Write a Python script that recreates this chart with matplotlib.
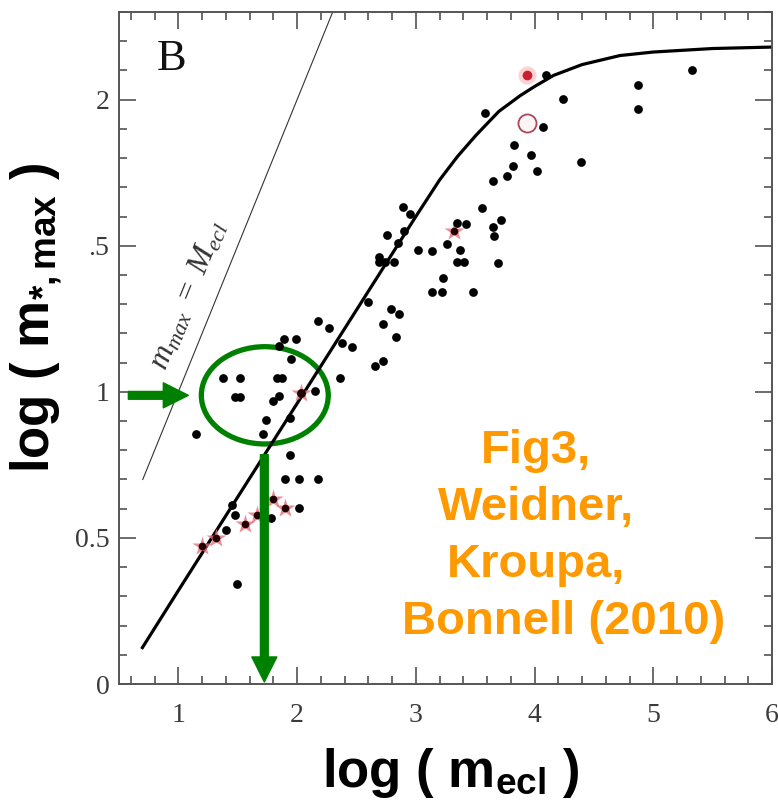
import matplotlib as mpl

mpl.use("Agg")
import matplotlib.pyplot as plt
from matplotlib.patches import Ellipse
from matplotlib.ticker import MultipleLocator, FixedLocator, FixedFormatter

plt.rcParams["font.family"] = "Liberation Serif"
plt.rcParams["mathtext.fontset"] = "custom"
plt.rcParams["mathtext.rm"] = "Liberation Serif"
plt.rcParams["mathtext.it"] = "Liberation Serif:italic"
plt.rcParams["mathtext.bf"] = "Liberation Sans:bold"

# observed clusters, log M_ecl vs log m_max (black dots)
CLUSTER_X = [1.38, 1.52, 1.48, 1.52, 1.83, 1.87, 1.80, 1.85, 1.74, 1.71, 1.94, 2.03, 2.15,
             2.36, 1.15, 1.89, 1.99, 1.85, 1.95, 2.18, 2.27, 2.46, 2.38, 2.60, 2.66, 2.72,
             1.94, 1.90, 2.02, 2.18, 2.02, 1.78, 1.48, 1.45, 1.40, 1.49,
             2.89, 2.95, 2.76, 2.90, 2.85, 2.69, 2.69, 2.74, 2.82, 2.79, 2.86, 2.72, 2.83,
             3.02, 3.14, 3.26, 3.35, 3.42, 3.37, 3.35, 3.41, 3.23, 3.14, 3.22, 3.48,
             3.56, 3.65, 3.66, 3.72, 3.69, 3.65, 3.77, 3.82, 3.97, 4.02,
             4.10, 4.24, 3.58, 4.07, 3.83, 4.39, 4.87, 4.87, 5.33]
CLUSTER_Y = [1.048, 1.048, 0.982, 0.982, 1.048, 1.048, 0.968, 0.985, 0.903, 0.856, 0.911,
             0.997, 1.002, 1.048, 0.854, 1.180, 1.180, 1.157, 1.111, 1.242, 1.217, 1.153,
             1.168, 1.306, 1.088, 1.105, 0.785, 0.702, 0.702, 0.702, 0.603, 0.568, 0.580,
             0.614, 0.528, 0.343,
             1.631, 1.608, 1.536, 1.551, 1.511, 1.463, 1.443, 1.443, 1.443, 1.285, 1.265,
             1.231, 1.186, 1.485, 1.483, 1.506, 1.578, 1.574, 1.485, 1.443, 1.443, 1.388,
             1.340, 1.340, 1.340, 1.629, 1.563, 1.532, 1.588, 1.440, 1.721, 1.740, 1.774,
             1.811, 1.757, 2.085, 2.003, 1.955, 1.906, 1.846, 1.786, 2.051, 1.968, 2.100]

# highlighted clusters (red stars)
STAR_X = [1.80, 1.90, 1.66, 1.56, 1.32, 1.20, 3.32, 2.03]
STAR_Y = [0.633, 0.603, 0.580, 0.549, 0.500, 0.471, 1.552, 0.997]

# red filled / open circle
RED_X, RED_Y = [3.935], [2.085]
OPEN_X, OPEN_Y = [3.935], [1.920]

# model relation m_max(M_ecl)
MODEL_X = [0.69, 1.0, 1.5, 2.0, 2.5, 3.0, 3.2, 3.35, 3.5, 3.57, 3.7, 3.88, 4.0, 4.16,
           4.4, 4.72, 5.0, 5.5, 6.0]
MODEL_Y = [0.12, 0.32, 0.64, 0.96, 1.28, 1.60, 1.725, 1.805, 1.875, 1.905, 1.96, 2.014,
           2.045, 2.083, 2.12, 2.151, 2.163, 2.175, 2.18]

# m_max = M_ecl limit
LIMIT_X = [0.7, 2.3]

Y_TICKS = [0, 0.5, 1, 1.5, 2]
Y_TICK_LABELS = ["0", "0.5", "1", ".5", "2"]
X_TICKS = [1, 2, 3, 4, 5, 6]

NOTE_LINES = ["Fig3,", "Weidner,", "Kroupa,", "Bonnell (2010)"]
NOTE_POS = [(4.013, 0.796), (4.013, 0.604), (4.013, 0.408), (4.241, 0.213)]

GREEN = "#008000"
ORANGE = "#ff9900"

fig = plt.figure(figsize=(7.78, 8.11), dpi=100)
ax = fig.add_axes([119 / 778, 1 - 684 / 811, 653 / 778, 672 / 811])

ax.plot(LIMIT_X, LIMIT_X, color="#333333", lw=0.8)
ax.plot(MODEL_X, MODEL_Y, color="black", lw=2.3, solid_capstyle="butt", solid_joinstyle="round")

ax.plot(STAR_X, STAR_Y, ls="none", marker="*", ms=15, color="#e8707c", alpha=0.8, mec="none")
ax.plot(CLUSTER_X, CLUSTER_Y, ls="none", marker="o", ms=6.3, color="black", mec="none")
ax.plot(STAR_X, STAR_Y, ls="none", marker="o", ms=5.5, color="#220000", mec="none")
ax.plot(RED_X, RED_Y, ls="none", marker="o", ms=13, color="#fbd3d6", mec="none")
ax.plot(RED_X, RED_Y, ls="none", marker="o", ms=7, color="#c8202f", mec="none")
ax.plot(OPEN_X, OPEN_Y, ls="none", marker="o", ms=13, mfc="#fff4f4", mec="#a8485c", mew=1.3)

ax.text(0.94, 2.14, "B", fontsize=32, ha="center", va="center", color="#111111")
ax.text(1.084, 1.33, r"$m_{max}\ =\ M_{ecl}$", fontsize=23, rotation=67.8,
        rotation_mode="anchor", ha="center", va="center", color="#333333")

# green annotations
ax.add_patch(Ellipse((1.728, 0.988), 1.069, 0.333, fill=False, ec=GREEN, lw=3.8))
arrow = dict(arrowstyle="simple,head_length=0.9,head_width=0.9,tail_width=0.28",
             color=GREEN, mutation_scale=20, shrinkA=0, shrinkB=0)
ax.annotate("", xy=(1.084, 0.988), xytext=(0.579, 0.988), arrowprops=arrow)
ax.annotate("", xy=(1.724, 0.007), xytext=(1.724, 0.785), arrowprops=arrow)

for line, (tx, ty) in zip(NOTE_LINES, NOTE_POS):
    ax.text(tx, ty, line, fontsize=34, fontfamily="Liberation Sans", fontweight="bold",
            color=ORANGE, ha="center", va="center")

ax.set_xlim(0.5, 6.0)
ax.set_ylim(0, 2.3)
ax.xaxis.set_major_locator(FixedLocator(X_TICKS))
ax.xaxis.set_minor_locator(MultipleLocator(0.2))
ax.yaxis.set_major_locator(FixedLocator(Y_TICKS))
ax.yaxis.set_major_formatter(FixedFormatter(Y_TICK_LABELS))
ax.yaxis.set_minor_locator(MultipleLocator(0.1))
ax.tick_params(which="both", direction="in", top=True, right=True, color="#444444",
               labelsize=20, labelcolor="#3a3a3a", width=1.1)
ax.tick_params(which="major", length=12)
ax.tick_params(axis="x", which="major", pad=14)
ax.tick_params(axis="y", which="major", pad=7)
ax.tick_params(which="minor", length=6)
for s in ax.spines.values():
    s.set_color("#555555")
    s.set_linewidth(1.4)

ax.set_xlabel(r"log ( m$_{\mathbf{ecl}}$ )", fontsize=38, fontfamily="Liberation Sans",
              fontweight="bold")
ax.xaxis.set_label_coords(0.508, -0.092)
ax.set_ylabel(r"log ( m$_{\mathbf{*,max}}$ )", fontsize=38, fontfamily="Liberation Sans",
              fontweight="bold")
ax.yaxis.set_label_coords(-0.085, 0.545)

fig.savefig("out.png", dpi=100)
